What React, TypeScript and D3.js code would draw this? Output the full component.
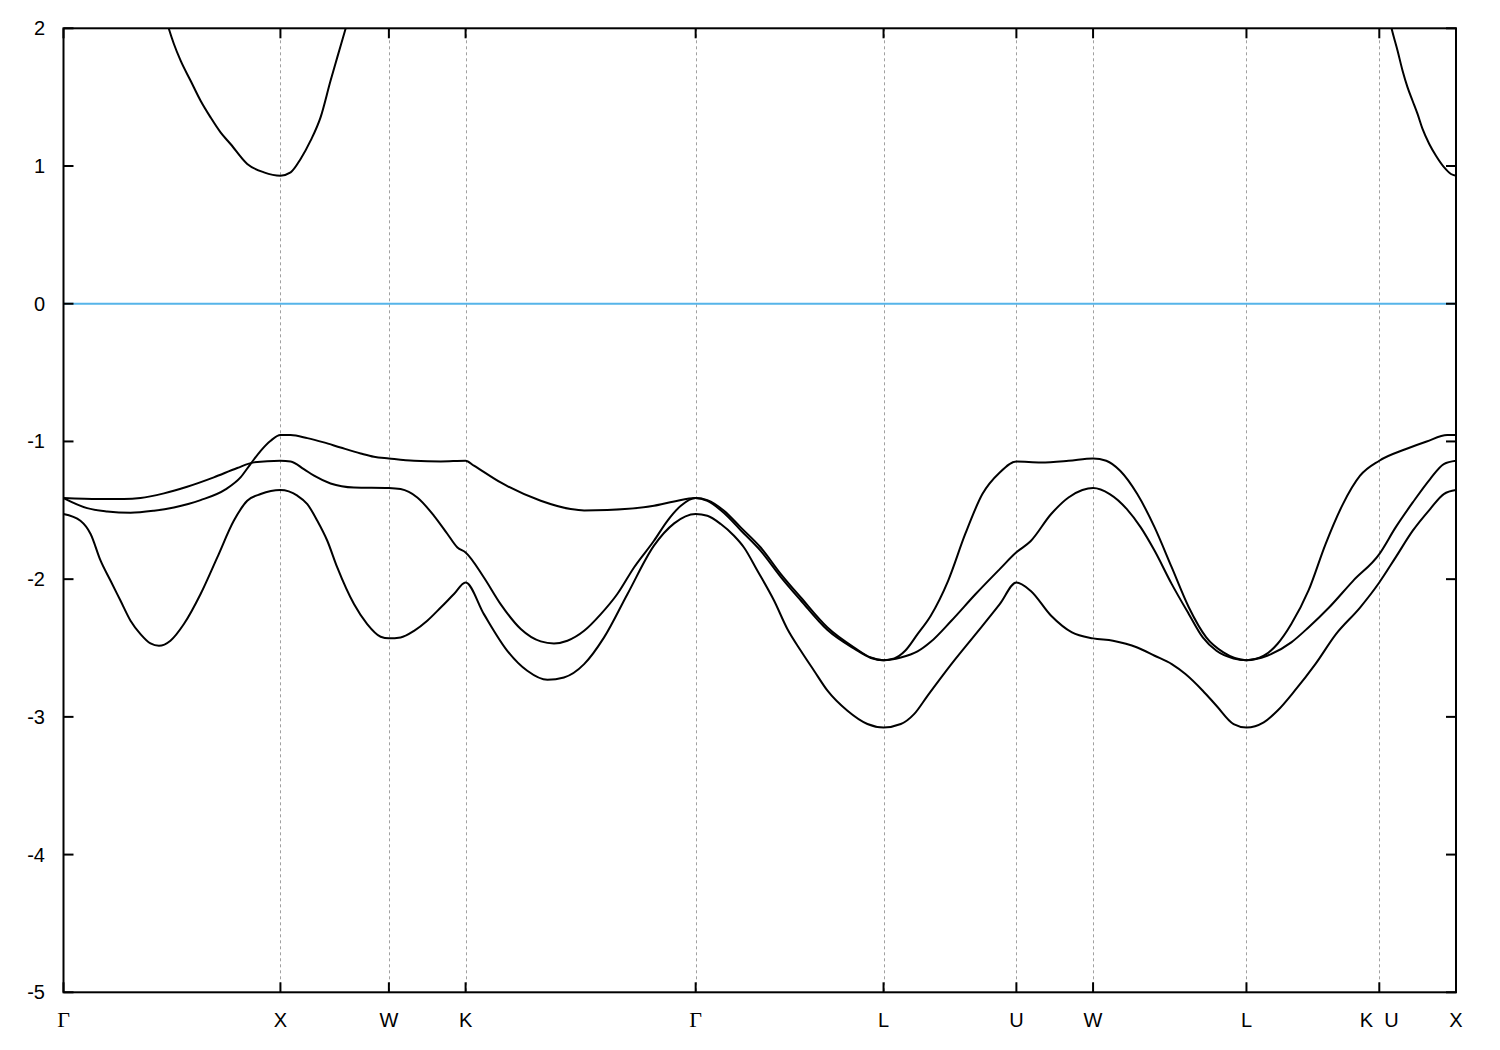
import React from "react";
import * as d3 from "d3";

// High-symmetry points along the k-path (units of 2π/a)
const kNodes = [0, 1, 1.5, 1.8536, 2.9142, 3.7803, 4.3927, 4.7462, 5.4533, 6.0657, 6.4193];
const kLabels = ["Γ", "X", "W", "K", "Γ", "L", "U", "W", "L", "K  U", "X"];
const yTicks = [2, 1, 0, -1, -2, -3, -4, -5];

const band1: [number, number][] = [
  [0, -1.411], [0.109, -1.484], [0.201, -1.508], [0.309, -1.518], [0.417, -1.503], [0.509, -1.479], [0.632, -1.426], [0.747, -1.348], [0.816, -1.261], [0.862, -1.164], [0.909, -1.068], [0.955, -0.995], [1, -0.954],
  [1.047, -0.954], [1.124, -0.976], [1.2, -1.007], [1.277, -1.044], [1.37, -1.087], [1.431, -1.111], [1.5, -1.123],
  [1.616, -1.14], [1.739, -1.145], [1.8536, -1.14],
  [1.892, -1.176], [2.015, -1.298], [2.2, -1.431], [2.338, -1.491], [2.4, -1.501], [2.507, -1.498], [2.722, -1.467], [2.815, -1.436], [2.9142, -1.411],
  [2.968, -1.426], [3.045, -1.503], [3.122, -1.624], [3.214, -1.77], [3.307, -1.963], [3.399, -2.133], [3.522, -2.351], [3.645, -2.496], [3.722, -2.569], [3.7803, -2.588],
  [3.83, -2.575], [3.88, -2.52], [3.937, -2.399], [3.998, -2.265], [4.078, -2.012], [4.157, -1.672], [4.236, -1.382], [4.316, -1.225], [4.3927, -1.145],
  [4.506, -1.152], [4.633, -1.14], [4.7462, -1.123],
  [4.807, -1.14], [4.871, -1.213], [4.95, -1.382], [5.03, -1.624], [5.109, -1.915], [5.188, -2.206], [5.268, -2.423], [5.347, -2.532], [5.4533, -2.588],
  [5.533, -2.556], [5.596, -2.471], [5.66, -2.326], [5.739, -2.084], [5.818, -1.745], [5.898, -1.455], [5.977, -1.249], [6.0657, -1.14],
  [6.189, -1.055], [6.284, -1.0], [6.379, -0.954], [6.4193, -0.954],
];

const band2: [number, number][] = [
  [0, -1.411], [0.163, -1.418], [0.278, -1.418], [0.355, -1.411], [0.463, -1.377], [0.57, -1.329], [0.693, -1.261], [0.801, -1.193], [0.878, -1.152], [1, -1.14],
  [1.047, -1.145], [1.108, -1.201], [1.155, -1.249], [1.231, -1.305], [1.339, -1.334], [1.5, -1.338],
  [1.554, -1.346], [1.631, -1.407], [1.708, -1.54], [1.77, -1.672], [1.816, -1.77], [1.8536, -1.806],
  [1.938, -1.988], [2.015, -2.181], [2.108, -2.362], [2.2, -2.452], [2.261, -2.467], [2.323, -2.447], [2.4, -2.375], [2.477, -2.254], [2.553, -2.108], [2.63, -1.915], [2.722, -1.721], [2.784, -1.576], [2.846, -1.467], [2.9142, -1.411],
  [2.968, -1.432], [3.045, -1.52], [3.122, -1.645], [3.214, -1.795], [3.307, -1.985], [3.399, -2.155], [3.522, -2.37], [3.645, -2.505], [3.722, -2.572], [3.7803, -2.588],
  [3.86, -2.569], [3.937, -2.525], [3.998, -2.455], [4.093, -2.302], [4.205, -2.108], [4.316, -1.927], [4.3927, -1.805],
  [4.458, -1.725], [4.553, -1.527], [4.633, -1.407], [4.697, -1.353], [4.7462, -1.338],
  [4.823, -1.382], [4.902, -1.491], [4.966, -1.624], [5.03, -1.794], [5.109, -2.036], [5.188, -2.254], [5.252, -2.423], [5.315, -2.52], [5.394, -2.576], [5.4533, -2.588],
  [5.549, -2.556], [5.66, -2.459], [5.739, -2.351], [5.834, -2.206], [5.945, -2.012], [6.0657, -1.818],
  [6.141, -1.624], [6.22, -1.443], [6.3, -1.273], [6.363, -1.164], [6.4193, -1.14],
];

const band3: [number, number][] = [
  [0, -1.527], [0.078, -1.576], [0.125, -1.672], [0.171, -1.866], [0.217, -2.012], [0.263, -2.157], [0.309, -2.302], [0.355, -2.399], [0.401, -2.467], [0.44, -2.484], [0.493, -2.447], [0.555, -2.326], [0.632, -2.108], [0.709, -1.842], [0.785, -1.576], [0.847, -1.431], [0.909, -1.382], [1, -1.353],
  [1.078, -1.394], [1.124, -1.455], [1.17, -1.576], [1.216, -1.721], [1.262, -1.915], [1.339, -2.181], [1.4, -2.326], [1.462, -2.418], [1.5, -2.43],
  [1.554, -2.423], [1.616, -2.375], [1.677, -2.302], [1.739, -2.206], [1.8, -2.108], [1.8536, -2.024],
  [1.938, -2.254], [2.046, -2.52], [2.138, -2.665], [2.231, -2.731], [2.307, -2.714], [2.4, -2.617], [2.492, -2.423], [2.6, -2.108], [2.722, -1.757], [2.815, -1.595], [2.9142, -1.527],
  [2.968, -1.54], [3.03, -1.6], [3.091, -1.685], [3.137, -1.77], [3.199, -1.939], [3.276, -2.157], [3.337, -2.362], [3.399, -2.52], [3.46, -2.665], [3.522, -2.81], [3.614, -2.956], [3.706, -3.052], [3.7803, -3.077],
  [3.86, -3.052], [3.921, -2.98], [3.983, -2.847], [4.093, -2.617], [4.205, -2.399], [4.316, -2.181], [4.3927, -2.024],
  [4.458, -2.084], [4.553, -2.266], [4.649, -2.387], [4.7462, -2.43],
  [4.838, -2.447], [4.95, -2.496], [5.03, -2.556], [5.109, -2.617], [5.172, -2.689], [5.252, -2.81], [5.315, -2.919], [5.394, -3.052], [5.4533, -3.077],
  [5.533, -3.04], [5.596, -2.956], [5.676, -2.81], [5.771, -2.617], [5.866, -2.399], [5.977, -2.206], [6.0657, -2.024],
  [6.141, -1.842], [6.22, -1.648], [6.3, -1.491], [6.363, -1.382], [6.4193, -1.353],
];

const conductionGX: [number, number][] = [
  [0.45, 2.2], [0.486, 1.995], [0.509, 1.886], [0.54, 1.765], [0.586, 1.619], [0.632, 1.474], [0.678, 1.353], [0.724, 1.244], [0.77, 1.16], [0.847, 1.015], [0.924, 0.954], [1, 0.93],
  [1.047, 0.954], [1.093, 1.051], [1.139, 1.184], [1.185, 1.353], [1.231, 1.619], [1.262, 1.789], [1.3, 1.995], [1.33, 2.16],
];

const conductionUX: [number, number][] = [
  [6.1, 2.16], [6.123, 1.995], [6.15, 1.837], [6.173, 1.692], [6.196, 1.571], [6.219, 1.474], [6.242, 1.378], [6.265, 1.269], [6.296, 1.16], [6.327, 1.075], [6.365, 0.99], [6.396, 0.942], [6.4193, 0.93],
];

const bands = [band1, band2, band3, conductionGX, conductionUX];
const fermiLevel = 0;

const W = 1500;
const H = 1050;
const left = 63.5;
const right = 1456;
const top = 28.3;
const bottom = 992.3;

export default function App() {
  const x = d3.scaleLinear().domain([0, kNodes[kNodes.length - 1]]).range([left, right]);
  const y = d3.scaleLinear().domain([-5, 2]).range([bottom, top]);
  const line = d3
    .line<[number, number]>()
    .x((d) => x(d[0]))
    .y((d) => y(d[1]))
    .curve(d3.curveMonotoneX);

  const sans = "'Liberation Sans', Arial, sans-serif";
  const serif = "'Liberation Serif', 'Times New Roman', serif";
  const tickLen = 10;

  return (
    <svg
      width={W}
      height={H}
      style={{ position: "absolute", left: 0, top: 0, background: "#fff" }}
    >
      <defs>
        <clipPath id="plotClip">
          <rect x={left} y={top} width={right - left} height={bottom - top} />
        </clipPath>
      </defs>
      <rect x={0} y={0} width={W} height={H} fill="#fff" />

      {/* vertical dashed lines at high-symmetry points */}
      {kNodes.slice(1, -1).map((k, i) => (
        <line
          key={"v" + i}
          x1={Math.round(x(k)) + 0.5}
          x2={Math.round(x(k)) + 0.5}
          y1={top}
          y2={bottom}
          stroke="#a0a0a0"
          strokeWidth={1}
          strokeDasharray="3,3"
        />
      ))}

      {/* Fermi level */}
      <line
        x1={left}
        x2={right}
        y1={y(fermiLevel)}
        y2={y(fermiLevel)}
        stroke="#56b4e9"
        strokeWidth={2}
      />

      {/* bands */}
      <g clipPath="url(#plotClip)">
        {bands.map((b, i) => (
          <path
            key={"b" + i}
            d={line(b) || ""}
            fill="none"
            stroke="#000"
            strokeWidth={2}
            strokeLinejoin="round"
          />
        ))}
      </g>

      {/* y ticks left and right */}
      {yTicks.map((t) => (
        <g key={"y" + t}>
          <line x1={left} x2={left + tickLen} y1={y(t)} y2={y(t)} stroke="#000" strokeWidth={2} />
          <line x1={right} x2={right - tickLen} y1={y(t)} y2={y(t)} stroke="#000" strokeWidth={2} />
          <text
            x={45}
            y={y(t)}
            dy="0.35em"
            textAnchor="end"
            fontFamily={sans}
            fontSize={20}
            fill="#000"
          >
            {t}
          </text>
        </g>
      ))}

      {/* x ticks bottom and top, labels */}
      {kNodes.map((k, i) => (
        <g key={"x" + i}>
          <line x1={x(k)} x2={x(k)} y1={bottom} y2={bottom - tickLen} stroke="#000" strokeWidth={2} />
          <line x1={x(k)} x2={x(k)} y1={top} y2={top + tickLen} stroke="#000" strokeWidth={2} />
          <text
            x={x(k)}
            y={1027}
            textAnchor="middle"
            fontFamily={kLabels[i] === "Γ" ? serif : sans}
            fontSize={kLabels[i] === "Γ" ? 22 : 20}
            fill="#000"
            style={{ whiteSpace: "pre" }}
          >
            {kLabels[i]}
          </text>
        </g>
      ))}

      {/* border */}
      <rect
        x={left}
        y={top}
        width={right - left}
        height={bottom - top}
        fill="none"
        stroke="#000"
        strokeWidth={2}
      />
    </svg>
  );
}
